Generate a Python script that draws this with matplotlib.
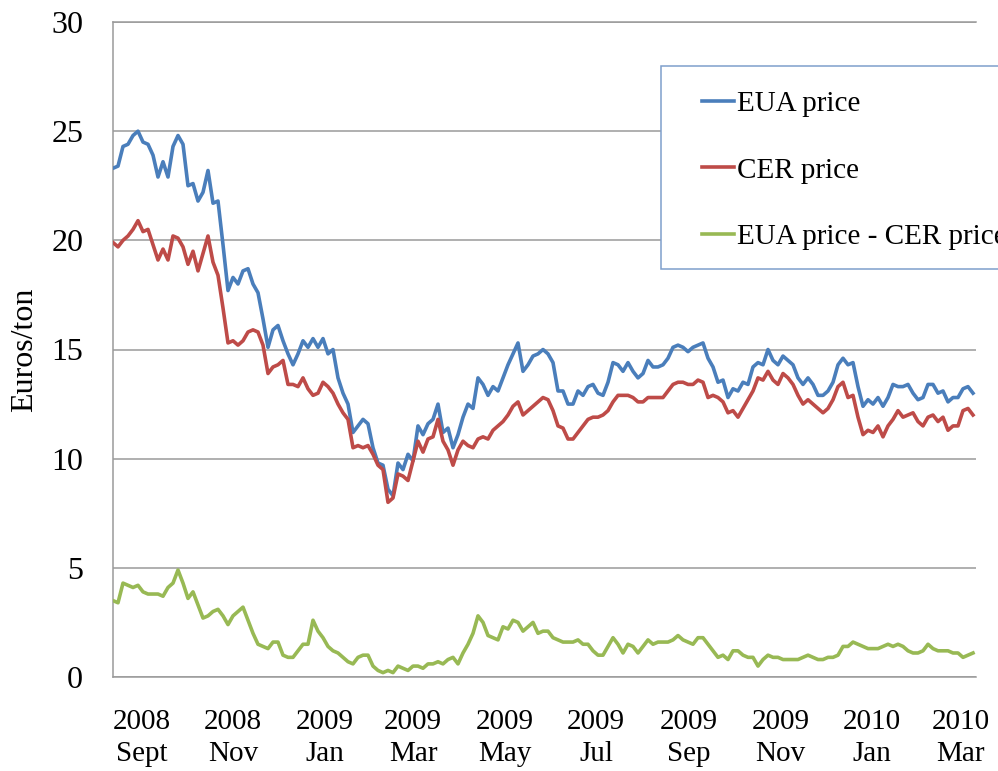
import numpy as np
import pandas as pd
import matplotlib
matplotlib.use("Agg")
import matplotlib.pyplot as plt
from matplotlib.patches import Rectangle

plt.rcParams["font.family"] = ["Liberation Serif", "DejaVu Serif"]

# EUA and CER prices (Euros/ton), about every 3-4 days
eua = [
    23.3, 23.4, 24.3, 24.4, 24.8, 25.0, 24.5, 24.4, 23.9, 22.9,
    23.6, 22.9, 24.3, 24.8, 24.4, 22.5, 22.6, 21.8, 22.2, 23.2,
    21.7, 21.8, 19.8, 17.7, 18.3, 18.0, 18.6, 18.7, 18.0, 17.6,
    16.4, 15.1, 15.9, 16.1, 15.4, 14.8, 14.3, 14.8, 15.4, 15.1,
    15.5, 15.1, 15.5, 14.8, 15.0, 13.7, 13.0, 12.5, 11.2, 11.5,
    11.8, 11.6, 10.5, 9.8, 9.7, 8.6, 8.3, 9.8, 9.5, 10.2,
    9.9, 11.5, 11.1, 11.6, 11.8, 12.5, 11.2, 11.4, 10.5, 11.1,
    11.9, 12.5, 12.3, 13.7, 13.4, 12.9, 13.3, 13.1, 13.7, 14.3,
    14.8, 15.3, 14.0, 14.3, 14.7, 14.8, 15.0, 14.8, 14.4, 13.1,
    13.1, 12.5, 12.5, 13.1, 12.9, 13.3, 13.4, 13.0, 12.9, 13.5,
    14.4, 14.3, 14.0, 14.4, 14.0, 13.7, 13.9, 14.5, 14.2, 14.2,
    14.3, 14.6, 15.1, 15.2, 15.1, 14.9, 15.1, 15.2, 15.3, 14.6,
    14.2, 13.5, 13.6, 12.8, 13.2, 13.1, 13.5, 13.4, 14.2, 14.4,
    14.3, 15.0, 14.5, 14.3, 14.7, 14.5, 14.3, 13.7, 13.4, 13.7,
    13.4, 12.9, 12.9, 13.1, 13.5, 14.3, 14.6, 14.3, 14.4, 13.3,
    12.4, 12.7, 12.5, 12.8, 12.4, 12.8, 13.4, 13.3, 13.3, 13.4,
    13.0, 12.7, 12.8, 13.4, 13.4, 13.0, 13.1, 12.6, 12.8, 12.8,
    13.2, 13.3, 13.0,
]
cer = [
    19.9, 19.7, 20.0, 20.2, 20.5, 20.9, 20.4, 20.5, 19.8, 19.1,
    19.6, 19.1, 20.2, 20.1, 19.7, 18.9, 19.5, 18.6, 19.4, 20.2,
    19.0, 18.4, 16.9, 15.3, 15.4, 15.2, 15.4, 15.8, 15.9, 15.8,
    15.2, 13.9, 14.2, 14.3, 14.5, 13.4, 13.4, 13.3, 13.7, 13.2,
    12.9, 13.0, 13.5, 13.3, 13.0, 12.5, 12.1, 11.8, 10.5, 10.6,
    10.5, 10.6, 10.2, 9.7, 9.5, 8.0, 8.2, 9.3, 9.2, 9.0,
    9.9, 10.8, 10.3, 10.9, 11.0, 11.8, 10.8, 10.4, 9.7, 10.4,
    10.8, 10.6, 10.5, 10.9, 11.0, 10.9, 11.3, 11.5, 11.7, 12.0,
    12.4, 12.6, 12.0, 12.2, 12.4, 12.6, 12.8, 12.7, 12.2, 11.5,
    11.4, 10.9, 10.9, 11.2, 11.5, 11.8, 11.9, 11.9, 12.0, 12.2,
    12.6, 12.9, 12.9, 12.9, 12.8, 12.6, 12.6, 12.8, 12.8, 12.8,
    12.8, 13.1, 13.4, 13.5, 13.5, 13.4, 13.4, 13.6, 13.5, 12.8,
    12.9, 12.8, 12.6, 12.1, 12.2, 11.9, 12.3, 12.7, 13.1, 13.7,
    13.6, 14.0, 13.6, 13.4, 13.9, 13.7, 13.4, 12.9, 12.5, 12.7,
    12.5, 12.3, 12.1, 12.3, 12.7, 13.3, 13.5, 12.8, 12.9, 11.9,
    11.1, 11.3, 11.2, 11.5, 11.0, 11.5, 11.8, 12.2, 11.9, 12.0,
    12.1, 11.7, 11.5, 11.9, 12.0, 11.7, 11.9, 11.3, 11.5, 11.5,
    12.2, 12.3, 12.0,
]
spread = [
    3.5, 3.4, 4.3, 4.2, 4.1, 4.2, 3.9, 3.8, 3.8, 3.8,
    3.7, 4.1, 4.3, 4.9, 4.3, 3.6, 3.9, 3.3, 2.7, 2.8,
    3.0, 3.1, 2.8, 2.4, 2.8, 3.0, 3.2, 2.6, 2.0, 1.5,
    1.4, 1.3, 1.6, 1.6, 1.0, 0.9, 0.9, 1.2, 1.5, 1.5,
    2.6, 2.1, 1.8, 1.4, 1.2, 1.1, 0.9, 0.7, 0.6, 0.9,
    1.0, 1.0, 0.5, 0.3, 0.2, 0.3, 0.2, 0.5, 0.4, 0.3,
    0.5, 0.5, 0.4, 0.6, 0.6, 0.7, 0.6, 0.8, 0.9, 0.6,
    1.1, 1.5, 2.0, 2.8, 2.5, 1.9, 1.8, 1.7, 2.3, 2.2,
    2.6, 2.5, 2.1, 2.3, 2.5, 2.0, 2.1, 2.1, 1.8, 1.7,
    1.6, 1.6, 1.6, 1.7, 1.5, 1.5, 1.2, 1.0, 1.0, 1.4,
    1.8, 1.5, 1.1, 1.5, 1.4, 1.1, 1.4, 1.7, 1.5, 1.6,
    1.6, 1.6, 1.7, 1.9, 1.7, 1.6, 1.5, 1.8, 1.8, 1.5,
    1.2, 0.9, 1.0, 0.8, 1.2, 1.2, 1.0, 0.9, 0.9, 0.5,
    0.8, 1.0, 0.9, 0.9, 0.8, 0.8, 0.8, 0.8, 0.9, 1.0,
    0.9, 0.8, 0.8, 0.9, 0.9, 1.0, 1.4, 1.4, 1.6, 1.5,
    1.4, 1.3, 1.3, 1.3, 1.4, 1.5, 1.4, 1.5, 1.4, 1.2,
    1.1, 1.1, 1.2, 1.5, 1.3, 1.2, 1.2, 1.2, 1.1, 1.1,
    0.9, 1.0, 1.1,
]

tick_months = ["2008-09-15", "2008-11-15", "2009-01-15", "2009-03-15", "2009-05-15",
               "2009-07-15", "2009-09-15", "2009-11-15", "2010-01-15", "2010-03-15"]
tick_labels = ["2008\nSept", "2008\nNov", "2009\nJan", "2009\nMar", "2009\nMay",
               "2009\nJul", "2009\nSep", "2009\nNov", "2010\nJan", "2010\nMar"]

dates = pd.date_range("2008-08-27", periods=len(eua), freq="80h")

fig = plt.figure(figsize=(9.98, 7.71), dpi=100)
ax = fig.add_axes([113 / 998, 1 - 677 / 771, 863 / 998, 655 / 771])

grid_c = "#9a9a9a"
ax.plot(dates, eua, color="#4a7ebb", lw=2.6, label="EUA price", zorder=3)
ax.plot(dates, cer, color="#be4b48", lw=2.6, label="CER price", zorder=3)
ax.plot(dates, spread, color="#98b954", lw=2.6, label="EUA price - CER price", zorder=3)

ax.set_ylim(0, 30)
ax.set_yticks(np.arange(0, 31, 5))
ax.set_xlim(dates[0], dates[-1] + pd.Timedelta(days=2))
ax.set_xticks(pd.to_datetime(tick_months))
ax.set_xticklabels(tick_labels, linespacing=1.3)
ax.tick_params(axis="both", length=0, colors="black")
ax.tick_params(axis="x", labelsize=21, pad=23)
ax.tick_params(axis="y", labelsize=23, pad=21.5)
ax.yaxis.grid(True, color=grid_c, lw=1.1)
ax.set_axisbelow(True)
for side in ["left", "bottom", "top"]:
    ax.spines[side].set_color(grid_c)
    ax.spines[side].set_linewidth(1.1)
ax.spines["right"].set_visible(False)

ax.set_ylabel("Euros/ton", fontsize=23)
ax.yaxis.set_label_coords(-74 / 863, 0.5)

# legend box, cut off at the right edge as in the original
box = Rectangle((661 / 998, 1 - 269 / 771), 0.36, 203 / 771, transform=fig.transFigure,
                facecolor="white", edgecolor="#7f9fcc", lw=1.1, zorder=4)
fig.add_artist(box)
handles, labels = ax.get_legend_handles_labels()
leg = fig.legend(handles, labels, loc="upper left", bbox_to_anchor=(687 / 998, 1 - 76 / 771),
                 frameon=False, fontsize=21, borderpad=0, handlelength=1.1,
                 handletextpad=0.1, labelspacing=1.38)
leg.set_zorder(5)

fig.savefig("out.png", dpi=100)
